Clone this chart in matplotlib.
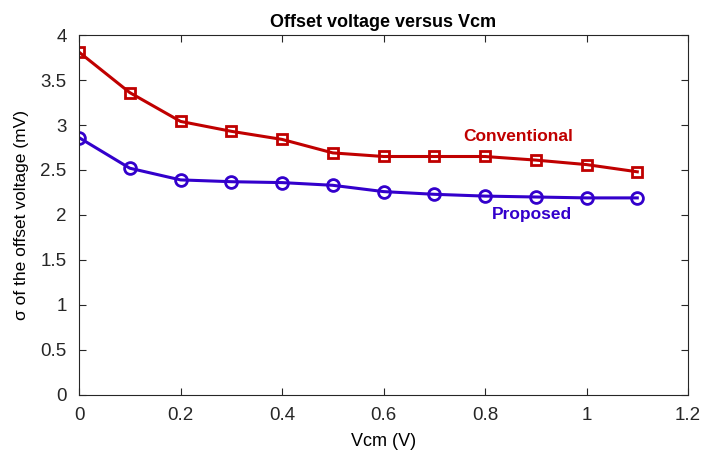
import matplotlib.pyplot as plt

vcm = [0, 0.1, 0.2, 0.3, 0.4, 0.5, 0.6, 0.7, 0.8, 0.9, 1.0, 1.1]
conventional = [3.81, 3.36, 3.04, 2.93, 2.84, 2.69, 2.65, 2.65, 2.65, 2.61, 2.56, 2.48]
proposed = [2.86, 2.52, 2.39, 2.37, 2.36, 2.33, 2.26, 2.23, 2.21, 2.20, 2.19, 2.19]

xticks = [0, 0.2, 0.4, 0.6, 0.8, 1, 1.2]
xticklabels = ['0', '0.2', '0.4', '0.6', '0.8', '1', '1.2']
yticks = [0, 0.5, 1, 1.5, 2, 2.5, 3, 3.5, 4]
yticklabels = ['0', '0.5', '1', '1.5', '2', '2.5', '3', '3.5', '4']

red = '#C00000'
blue = '#3300CC'

plt.rcParams['font.family'] = ['Liberation Sans', 'DejaVu Sans']

fig = plt.figure(figsize=(7.08, 4.57), dpi=100)
ax = fig.add_axes([0.1116, 0.1357, 0.8602, 0.7877])

ax.plot(vcm, conventional, color=red, linewidth=2.2, marker='s', markersize=7,
        markerfacecolor='none', markeredgewidth=2)
ax.plot(vcm, proposed, color=blue, linewidth=2.2, marker='o', markersize=8.5,
        markerfacecolor='none', markeredgewidth=2)

ax.text(0.865, 2.87, 'Conventional', color=red, fontsize=12.5, fontweight='bold',
        ha='center', va='center')
ax.text(0.893, 2.01, 'Proposed', color=blue, fontsize=12.5, fontweight='bold',
        ha='center', va='center')

ax.set_xlim(0, 1.2)
ax.set_ylim(0, 4)
ax.set_xticks(xticks)
ax.set_xticklabels(xticklabels)
ax.set_yticks(yticks)
ax.set_yticklabels(yticklabels)
ax.tick_params(direction='in', top=True, right=True, labelsize=13.5, length=5, pad=9, colors='#262626')
for s in ax.spines.values():
    s.set_color('#262626')
    s.set_linewidth(0.8)

ax.set_xlabel('Vcm (V)', fontsize=13, labelpad=6)
ax.set_ylabel('σ of the offset voltage (mV)', fontsize=12.5, labelpad=8)
ax.set_title('Offset voltage versus Vcm', fontsize=13, fontweight='bold', pad=6)

fig.savefig('out.png', dpi=100)
